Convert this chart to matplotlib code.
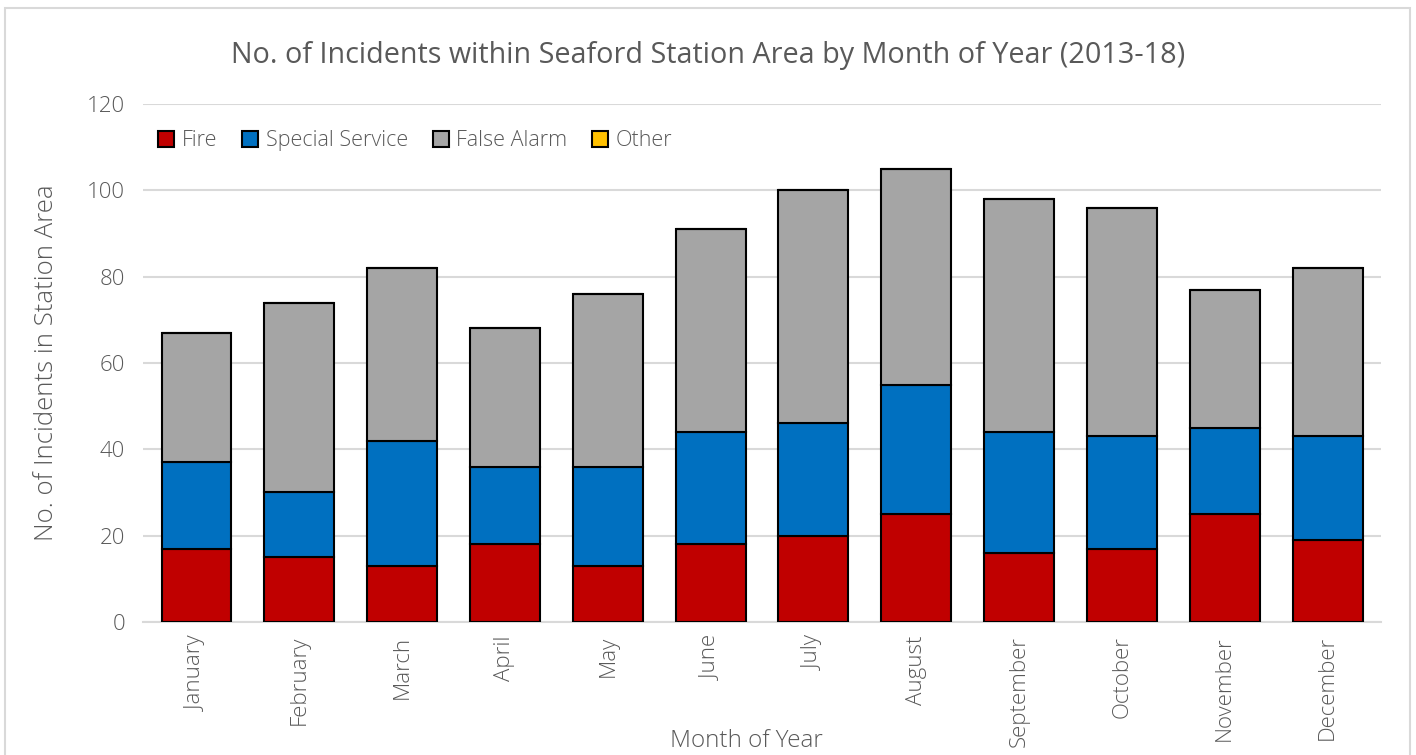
import matplotlib.pyplot as plt
import numpy as np
from matplotlib.patches import Rectangle

months = ['January', 'February', 'March', 'April', 'May', 'June', 'July',
          'August', 'September', 'October', 'November', 'December']
fire = [17, 15, 13, 18, 13, 18, 20, 25, 16, 17, 25, 19]
special = [20, 15, 29, 18, 23, 26, 26, 30, 28, 26, 20, 24]
false_alarm = [30, 44, 40, 32, 40, 47, 54, 50, 54, 53, 32, 39]
other = [0, 0, 0, 0, 0, 0, 0, 0, 0, 0, 0, 0]

series = [('Fire', fire, '#c00000'),
          ('Special Service', special, '#0070c0'),
          ('False Alarm', false_alarm, '#a5a5a5'),
          ('Other', other, '#ffc000')]

plt.rcParams['font.family'] = ['Open Sans', 'DejaVu Sans']
txt = '#595959'

fig = plt.figure(figsize=(14.16, 7.55), dpi=100)
ax = fig.add_axes([0.101, 0.1762, 0.8743, 0.6861])

# chart frame
fig.patches.append(Rectangle((5/1416, -0.1), 1405/1416, 1.1 - 8/755,
                             transform=fig.transFigure, fill=False,
                             edgecolor='#d9d9d9', linewidth=1.5))

x = np.arange(len(months))
bottom = np.zeros(len(months))
for name, vals, col in series:
    vals = np.array(vals)
    ax.bar(x, vals, 0.68, bottom=bottom, color=col, edgecolor='black',
           linewidth=1.5, label=name, zorder=3)
    bottom += vals

ax.set_xlim(-0.52, 11.52)
ax.set_ylim(0, 120)
ax.set_yticks(range(0, 121, 20))
ax.grid(axis='y', color='#d9d9d9', linewidth=1.5, zorder=0)
for s in ['left', 'right', 'top']:
    ax.spines[s].set_visible(False)
ax.spines['bottom'].set_color('#d9d9d9')
ax.spines['bottom'].set_linewidth(1.5)
ax.tick_params(length=0, colors=txt, labelsize=16)
ax.tick_params(axis='x', pad=10)
ax.tick_params(axis='y', pad=13)
ax.set_xticks(x)
ax.set_xticklabels(months, rotation=90, fontweight='light')
for t in ax.get_yticklabels():
    t.set_fontweight('light')

ax.set_ylabel('No. of Incidents in Station Area', fontsize=18.5, color=txt,
              fontweight='light')
ax.yaxis.set_label_coords(-0.068, 0.5)
fig.text(746/1416, (755 - 741)/755, 'Month of Year', ha='center', va='center',
         fontsize=17.5, color=txt, fontweight='light')
fig.text(708/1416, (755 - 55)/755,
         'No. of Incidents within Seaford Station Area by Month of Year (2013-18)',
         ha='center', va='center', fontsize=20.7, color=txt)

leg = ax.legend(loc='upper left', bbox_to_anchor=(0.0, 0.978), ncol=4,
                frameon=False, fontsize=15.5, handlelength=0.75, handleheight=0.75,
                handletextpad=0.35, columnspacing=1.15, borderaxespad=0.3)
for t in leg.get_texts():
    t.set_color(txt)
    t.set_fontweight('light')

fig.savefig('out.png', dpi=100)
